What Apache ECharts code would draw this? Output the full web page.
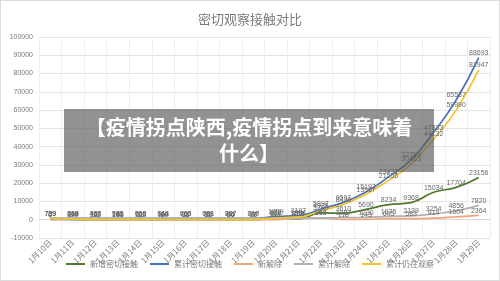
<!DOCTYPE html>
<html>
<head>
<meta charset="utf-8">
<script src="https://cdn.jsdelivr.net/npm/echarts@6/dist/echarts.min.js"></script>
<style>
html, body { margin: 0; padding: 0; background: #fff; }
#wrap { position: relative; width: 500px; height: 281px; }
#chart { position: absolute; left: 0; top: 0; width: 498px; height: 279px; border: 1px solid #dcdcdc; }
#banner {
	position: absolute; left: 64px; top: 109px; width: 370px; height: 63px;
	background: rgba(90, 90, 90, 0.66); color: #fff; text-align: center;
	font-family: "Noto Sans CJK SC", sans-serif; font-weight: bold;
	font-size: 20px; line-height: 26px; padding-top: 5px; box-sizing: border-box;
}
</style>
</head>
<body>
<div id="wrap">
	<div id="chart"></div>
	<div id="banner">【疫情拐点陕西,疫情拐点到来意味着<br>什么】</div>
</div>
<script>
// dates on the x axis
const days = [
	"1月10日", "1月11日", "1月12日", "1月13日", "1月14日",
	"1月15日", "1月16日", "1月17日", "1月18日", "1月19日",
	"1月20日", "1月21日", "1月22日", "1月23日", "1月24日",
	"1月25日", "1月26日", "1月27日", "1月28日", "1月29日"
];
const newContact = [739, 24, 0, 0, 0, 0, 0, 0, 54, 0, 922, 458, 3700, 3610, 5690, 8234, 9368, 15034, 17704, 23156];
const totalContact = [739, 763, 763, 763, 763, 763, 763, 763, 817, 817, 1739, 2197, 5897, 9507, 15197, 23431, 32799, 47833, 65537, 88693];
const newRelease = [0, 320, 93, 145, 18, 44, 21, 16, 46, 13, 77, 765, 954, 118, 143, 645, 583, 914, 1604, 2364];
const totalRelease = [0, 344, 437, 582, 600, 644, 665, 681, 727, 740, 817, 765, 969, 1087, 1230, 1875, 2139, 3254, 4856, 7820];
const stillObserved = [739, 419, 326, 181, 163, 119, 98, 82, 90, 77, 922, 1394, 4928, 8420, 13967, 21556, 30453, 44132, 59990, 81947];

const names = ["新增密切接触", "累计密切接触", "新解除", "累计解除", "累计仍在观察"];
const colors = ["#4f7a2c", "#4a72b8", "#f0a47c", "#b0b0b0", "#f2c230"];
const values = [newContact, totalContact, newRelease, totalRelease, stillObserved];

const chart = echarts.init(document.getElementById("chart"));
const option = {
	animation: false,
	title: {
		text: "密切观察接触对比",
		left: "center",
		top: 7,
		textStyle: { fontSize: 13, fontWeight: "normal", color: "#7a7a7a", fontFamily: "Noto Sans CJK SC" }
	},
	legend: {
		bottom: 7,
		left: "center",
		itemWidth: 19,
		itemHeight: 2,
		itemGap: 12,
		icon: "rect",
		textStyle: { fontSize: 8, color: "#7a7a7a", fontFamily: "Noto Sans CJK SC" },
		data: names
	},
	grid: { left: 38, right: 9, top: 36, bottom: 42 },
	xAxis: {
		type: "category",
		data: days,
		boundaryGap: true,
		axisLine: { lineStyle: { color: "#d9d9d9" } },
		axisTick: { show: false },
		splitLine: { show: true, lineStyle: { color: "#efefef" } },
		axisLabel: { rotate: 45, fontSize: 8, color: "#7a7a7a", interval: 0, margin: 3, fontFamily: "Noto Sans CJK SC" }
	},
	yAxis: {
		type: "value",
		min: -10000,
		max: 100000,
		interval: 10000,
		axisLine: { show: false },
		axisTick: { show: false },
		splitLine: { lineStyle: { color: "#e3e3e3" } },
		axisLabel: { fontSize: 7, color: "#7a7a7a", margin: 6, formatter: v => String(v) }
	},
	series: names.map((n, i) => ({
		name: n,
		type: "line",
		data: values[i],
		smooth: true,
		symbol: "circle",
		symbolSize: 0.1,
		lineStyle: { width: 1.7, color: colors[i] },
		itemStyle: { color: colors[i] },
		label: { show: true, position: "top", fontSize: 7, color: "#6a6a6a", distance: 1 }
	}))
};
chart.setOption(option);
</script>
</body>
</html>
